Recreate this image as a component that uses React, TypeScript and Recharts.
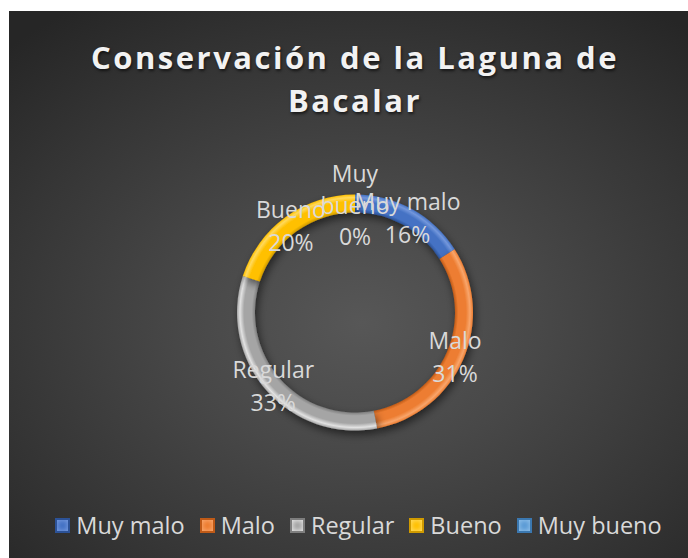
import React from "react";
import { PieChart, Pie, Cell, Legend } from "recharts";

const categories = ["Muy malo", "Malo", "Regular", "Bueno", "Muy bueno"];
const percentages = [16, 31, 33, 20, 0];
const labelLines = [["Muy malo"], ["Malo"], ["Regular"], ["Bueno"], ["Muy", "bueno"]];

const data = categories.map((name, i) => ({ name, value: percentages[i] }));

// base / light / dark shades for the bevelled ring
const shades = [
  { base: "#4472C4", light: "#7397dc", dark: "#2c5297" },
  { base: "#ED7D31", light: "#f8a56b", dark: "#bf5a17" },
  { base: "#A5A5A5", light: "#e2e2e2", dark: "#7e7e7e" },
  { base: "#FFC000", light: "#ffd95c", dark: "#cf9a00" },
  { base: "#5B9BD5", light: "#8dbde8", dark: "#3b78b0" },
];

const FONT = "'Open Sans', sans-serif";
const W = 679;
const H = 547;
const CX = 346;
const CY = 301.5;
const R_OUT = 118;
const R_IN = 100;
const RAD = Math.PI / 180;

const renderLabel = (props: any) => {
  const { cx, cy, midAngle, innerRadius, outerRadius, index, percent } = props;
  const r = (innerRadius + outerRadius) / 2;
  const x = cx + r * Math.cos(-midAngle * RAD);
  const y = cy + r * Math.sin(-midAngle * RAD);
  const lines = [...labelLines[index], `${Math.round(percent * 100)}%`];
  const step = lines.length > 2 ? 31.5 : 33;
  const first = y - ((lines.length - 1) * step) / 2 + 10;
  return (
    <text
      x={x}
      y={first}
      textAnchor="middle"
      fill="#d9d9d9"
      fontFamily={FONT}
      fontSize={23}
    >
      {lines.map((l, i) => (
        <tspan key={i} x={x} dy={i === 0 ? 0 : step}>
          {l}
        </tspan>
      ))}
    </text>
  );
};

const renderLegend = () => (
  <div
    style={{
      display: "flex",
      justifyContent: "center",
      alignItems: "center",
      fontFamily: FONT,
      fontSize: 23.5,
      lineHeight: "28px",
      color: "#d9d9d9",
      paddingLeft: 20,
    }}
  >
    {categories.map((c, i) => (
      <div
        key={c}
        style={{ display: "flex", alignItems: "center", marginRight: i < categories.length - 1 ? 15 : 0 }}
      >
        <span
          style={{
            display: "inline-block",
            width: 15,
            height: 15,
            marginRight: 6,
            background: shades[i].base,
            boxShadow: `inset 0 0 0 2px ${shades[i].dark}, inset 0 0 4px 3px ${shades[i].light}`,
          }}
        />
        {c}
      </div>
    ))}
  </div>
);

export default function App() {
  return (
    <div
      style={{
        position: "absolute",
        left: 9,
        top: 11,
        width: W,
        height: H,
        background:
          "radial-gradient(ellipse 75% 70% at 52% 57%, #575757 0%, #484848 35%, #363636 70%, #262626 100%)",
      }}
    >
      <div
        style={{
          position: "absolute",
          left: 66,
          top: 24.5,
          width: 560,
          textAlign: "center",
          fontFamily: FONT,
          fontWeight: 700,
          fontSize: 31,
          lineHeight: "43px",
          letterSpacing: 2.5,
          color: "#f2f2f2",
          textShadow: "1px 2px 3px rgba(0,0,0,0.6)",
          zIndex: 2,
        }}
      >
        Conservación de la Laguna de Bacalar
      </div>
      <PieChart width={W} height={H} margin={{ top: 0, right: 0, bottom: 0, left: 0 }}>
        <defs>
          {shades.map((s, i) => (
            <radialGradient
              key={i}
              id={`ring-${i}`}
              gradientUnits="userSpaceOnUse"
              cx={CX}
              cy={CY}
              r={R_OUT}
            >
              <stop offset={R_IN / R_OUT} stopColor={s.dark} />
              <stop offset={0.875} stopColor={s.base} />
              <stop offset={0.94} stopColor={s.base} />
              <stop offset={0.975} stopColor={s.light} />
              <stop offset={1} stopColor={s.base} />
            </radialGradient>
          ))}
          <filter id="ring-shadow" x="-20%" y="-20%" width="140%" height="140%">
            <feDropShadow dx="2" dy="4" stdDeviation="4" floodColor="#000" floodOpacity="0.55" />
          </filter>
        </defs>
        <Pie
          data={data}
          dataKey="value"
          nameKey="name"
          cx={CX}
          cy={CY}
          innerRadius={R_IN}
          outerRadius={R_OUT}
          startAngle={90}
          endAngle={-270}
          stroke="none"
          label={renderLabel}
          labelLine={false}
          isAnimationActive={false}
          style={{ filter: "url(#ring-shadow)" }}
        >
          {data.map((d, i) => (
            <Cell key={d.name} fill={`url(#ring-${i})`} />
          ))}
        </Pie>
        <Legend
          verticalAlign="bottom"
          content={renderLegend}
          wrapperStyle={{ left: 0, bottom: 19, width: W }}
        />
      </PieChart>
    </div>
  );
}
